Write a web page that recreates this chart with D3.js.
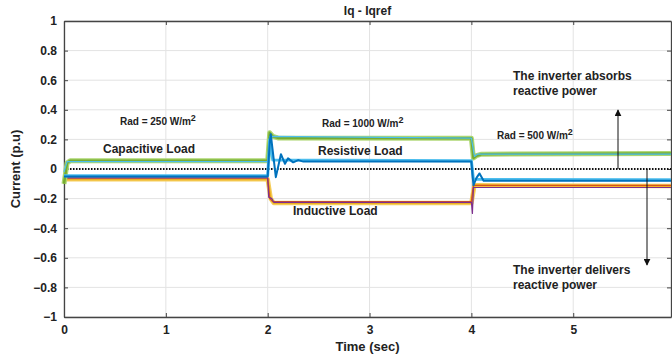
<!DOCTYPE html>
<html>
<head>
<meta charset="utf-8">
<script src="https://cdn.jsdelivr.net/npm/d3@7"></script>
<style>
  body { margin: 0; background: #fff; }
  text { font-family: "Liberation Sans Narrow", "Liberation Sans", Arial, sans-serif; font-weight: bold; fill: #222; }
</style>
</head>
<body>
<div class="graph-center"></div>
<script>
// chart data (time in sec, current in p.u)
let xTicks = [0, 1, 2, 3, 4, 5]
let yTicks = [-1, -0.8, -0.6, -0.4, -0.2, 0, 0.2, 0.4, 0.6, 0.8, 1]

// capacitive case - measured (noisy green) and reference (cyan)
let greenIq = [[0,-0.1],[0.03,0.04],[0.06,0.055],[2.0,0.055],[2.02,0.245],[2.05,0.22],[2.1,0.21],[4.0,0.208],[4.02,0.075],[4.05,0.09],[4.1,0.1],[5.96,0.105]]
let cyanRef = [[0,-0.02],[0.03,0.05],[2.0,0.05],[2.02,0.22],[4.0,0.208],[4.03,0.085],[4.06,0.1],[5.96,0.1]]

// resistive case - measured (blue) and reference (light blue)
let blueIq = [[0,-0.05],[2.0,-0.05],[2.02,0.18],[2.03,0.235],[2.08,-0.055],[2.13,0.1],[2.17,0.035],[2.2,0.072],[2.25,0.045],[2.3,0.06],[2.35,0.05],[4.0,0.05],[4.02,-0.11],[4.05,-0.06],[4.08,-0.03],[4.12,-0.08],[5.96,-0.08]]
let lightBlueRef = [[0,-0.045],[2.0,-0.045],[2.02,0.2],[2.05,0.06],[4.0,0.055],[4.02,-0.07],[5.96,-0.072]]

// inductive case - measured (noisy yellow), orange and purple traces
let yellowIq = [[0,-0.07],[2.0,-0.07],[2.03,-0.2],[2.06,-0.23],[4.0,-0.23],[4.03,-0.11],[5.96,-0.115]]
let orangeIq = [[0,-0.06],[2.0,-0.06],[2.02,-0.2],[2.05,-0.22],[4.0,-0.22],[4.02,-0.11],[5.96,-0.11]]
let purpleIq = [[0,-0.06],[2.0,-0.06],[2.01,-0.19],[2.04,-0.2],[2.06,-0.225],[4.0,-0.225],[4.01,-0.3],[4.02,-0.125],[5.96,-0.125]]

let zeroLine = [[0,0],[5.96,0]]

let svgWidth = 672
let svgHeight = 355

let margin = { left: 64, right: 1, top: 21, bottom: 38 }
let width = svgWidth - margin.left - margin.right
let height = svgHeight - margin.top - margin.bottom

let svg = d3.select('.graph-center')
    .append('svg')
    .attr('width', svgWidth)
    .attr('height', svgHeight)

let g = svg.append('g')
    .attr('transform', `translate(${margin.left},${margin.top})`)

let xScale = d3.scaleLinear().domain([0, 5.96]).range([0, width])
let yScale = d3.scaleLinear().domain([-1, 1]).range([height, 0])

// grid
g.selectAll('.vgrid').data(xTicks).join('line')
    .attr('x1', d => xScale(d)).attr('x2', d => xScale(d))
    .attr('y1', 0).attr('y2', height)
    .attr('stroke', '#e3e3e3').attr('stroke-width', 1)
g.selectAll('.hgrid').data(yTicks).join('line')
    .attr('x1', 0).attr('x2', width)
    .attr('y1', d => yScale(d)).attr('y2', d => yScale(d))
    .attr('stroke', '#e3e3e3').attr('stroke-width', 1)

// axes, ticks pointing inward like matlab
let xAxis = d3.axisBottom(xScale).tickValues(xTicks).tickSizeInner(-4).tickSizeOuter(0).tickPadding(8).tickFormat(d3.format('d'))
let yAxis = d3.axisLeft(yScale).tickValues(yTicks).tickSizeInner(-4).tickSizeOuter(0).tickPadding(7).tickFormat(d => d === 0 ? '0' : d3.format('')(d))
let xTop = d3.axisTop(xScale).tickValues(xTicks).tickSizeInner(-4).tickSizeOuter(0).tickFormat('')
let yRight = d3.axisRight(yScale).tickValues(yTicks).tickSizeInner(-4).tickSizeOuter(0).tickFormat('')

g.append('g').attr('id', 'x-axis').attr('transform', `translate(0,${height})`).call(xAxis)
g.append('g').attr('id', 'y-axis').call(yAxis)
g.append('g').attr('transform', `translate(0,0)`).call(xTop)
g.append('g').attr('transform', `translate(${width},0)`).call(yRight)

g.selectAll('.domain').attr('stroke', '#444').attr('stroke-width', 1.3)
g.selectAll('.tick line').attr('stroke', '#444')
g.selectAll('.tick text').style('font-size', '12px').attr('fill', '#222')

let valueLine = d3.line()
    .x(d => xScale(d[0]))
    .y(d => yScale(d[1]))

function drawLine(data, color, w, opacity) {
    g.append('path')
        .attr('d', valueLine(data))
        .attr('fill', 'none')
        .attr('stroke', color)
        .attr('stroke-width', w)
        .attr('stroke-opacity', opacity || 1)
        .attr('stroke-linejoin', 'round')
}

// zero reference
g.append('path')
    .attr('d', valueLine(zeroLine))
    .attr('fill', 'none')
    .attr('stroke', '#111')
    .attr('stroke-width', 2)
    .attr('stroke-dasharray', '1.5,1.5')

// inductive group
drawLine(yellowIq, '#f5cd5a', 4.5)
drawLine(yellowIq, '#edb120', 2)
drawLine(orangeIq, '#d95319', 1.3)
drawLine(purpleIq, '#7e2f8e', 1.2)

// capacitive group
drawLine(greenIq, '#acd670', 5)
drawLine(greenIq, '#77ac30', 2.5)
drawLine(cyanRef, '#4dbeee', 1.2)

// resistive group
drawLine(lightBlueRef, '#4dbeee', 3)
drawLine(blueIq, '#0072bd', 2)

// titles
svg.append('text')
    .attr('x', margin.left + width / 2).attr('y', 15)
    .attr('text-anchor', 'middle').style('font-size', '12px')
    .text('Iq - Iqref')
svg.append('text')
    .attr('x', margin.left + width / 2).attr('y', 351)
    .attr('text-anchor', 'middle').style('font-size', '13px')
    .text('Time (sec)')
svg.append('text')
    .attr('transform', `translate(20,${margin.top + yScale(0)}) rotate(-90)`)
    .attr('text-anchor', 'middle').style('font-size', '13px')
    .text('Current (p.u)')

// annotations
function radLabel(x, y, val) {
    let t = svg.append('text').attr('x', x).attr('y', y).style('font-size', '10px').style('font-family', 'Liberation Sans, Arial, sans-serif')
    t.append('tspan').text('Rad = ' + val + ' W/m')
    t.append('tspan').attr('dy', -4).style('font-size', '9px').text('2')
}
radLabel(120, 125, '250')
radLabel(322, 127, '1000')
radLabel(497, 139, '500')

function label(x, y, s, size) {
    svg.append('text').attr('x', x).attr('y', y)
        .style('font-size', size + 'px')
        .style('font-family', 'Liberation Sans, Arial, sans-serif')
        .text(s)
}
label(103, 153, 'Capacitive Load', 12)
label(318, 155, 'Resistive Load', 12)
label(293, 215, 'Inductive Load', 12)
label(513, 80, 'The inverter absorbs', 12)
label(513, 95, 'reactive power', 12)
label(513, 274, 'The inverter delivers', 12)
label(513, 289, 'reactive power', 12)

// arrows
let defs = svg.append('defs')
defs.append('marker')
    .attr('id', 'arrow').attr('viewBox', '0 0 10 10')
    .attr('refX', 9).attr('refY', 5)
    .attr('markerWidth', 7).attr('markerHeight', 7)
    .attr('orient', 'auto-start-reverse')
    .append('path').attr('d', 'M0,0 L10,5 L0,10 z').attr('fill', '#111')

svg.append('line')
    .attr('x1', 618).attr('y1', margin.top + yScale(0))
    .attr('x2', 618).attr('y2', 110)
    .attr('stroke', '#111').attr('stroke-width', 1)
    .attr('marker-end', 'url(#arrow)')
svg.append('line')
    .attr('x1', 647).attr('y1', margin.top + yScale(0))
    .attr('x2', 647).attr('y2', 265)
    .attr('stroke', '#111').attr('stroke-width', 1)
    .attr('marker-end', 'url(#arrow)')
</script>
</body>
</html>
